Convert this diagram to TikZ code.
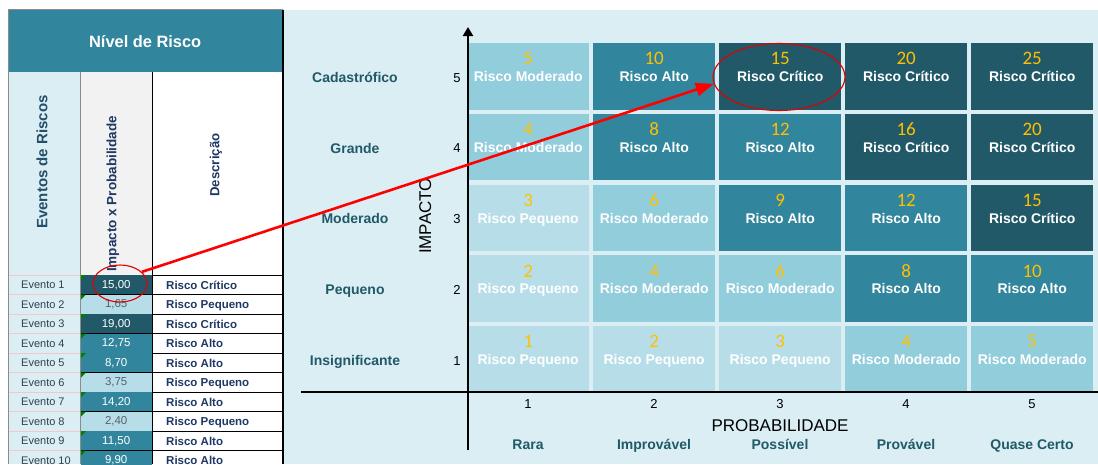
\documentclass[tikz,border=0pt]{standalone}
\usepackage{fontspec}
\setmainfont{Liberation Sans}
\newfontfamily\numfont{Carlito}
\usetikzlibrary{arrows.meta,shapes.geometric}
\definecolor{bgpanel}{HTML}{DAEEF3}
\definecolor{cPeq}{HTML}{B7DEE8}
\definecolor{cMod}{HTML}{92CDDC}
\definecolor{cAlto}{HTML}{31859C}
\definecolor{cCrit}{HTML}{215968}
\definecolor{numyel}{HTML}{FFC000}
\definecolor{lbl}{HTML}{215968}
\definecolor{navy}{HTML}{1F3864}
\definecolor{hdrblue}{HTML}{254E6A}
\definecolor{evtxt}{HTML}{333F50}
\definecolor{vgray}{HTML}{56626B}
\definecolor{pinkline}{HTML}{F2C8C8}
\definecolor{hdrgray}{HTML}{F2F2F2}
\definecolor{xlgreen}{HTML}{008000}
\definecolor{arrred}{HTML}{FF0000}
\definecolor{ellred}{HTML}{E00000}
\definecolor{bordergray}{HTML}{8C8C8C}
\begin{document}
\begin{tikzpicture}[x=1pt,y=-1pt,
  riskcell/.style={rectangle,draw=none,inner sep=0pt,minimum width=122pt,minimum height=66.5pt,anchor=north west},
  cellnum/.style={font=\numfont\fontsize{19}{20}\selectfont,text=numyel,inner sep=0pt,text height=12pt,text depth=0pt},
  celltxt/.style={font=\fontsize{14}{16}\selectfont\bfseries,text=white,inner sep=0pt,text height=10.2pt,text depth=0pt},
  rowlbl/.style={font=\fontsize{14}{16}\selectfont\bfseries,text=lbl,inner sep=0pt,text height=10.2pt,text depth=0pt},
  axisnum/.style={font=\fontsize{13}{15}\selectfont,text=black,inner sep=0pt,text height=9.4pt,text depth=0pt},
  axistitle/.style={font=\fontsize{17}{19}\selectfont,text=black,inner sep=0pt,text height=12.2pt,text depth=0pt},
  axisline/.style={line width=2.8pt,draw=black},
  valcell/.style={rectangle,draw=none,inner sep=0pt,minimum width=71pt,minimum height=19.5pt,anchor=north west,font=\fontsize{11.5}{13}\selectfont},
  evname/.style={font=\fontsize{11}{13}\selectfont,text=evtxt,inner sep=0pt,anchor=west,text height=8pt,text depth=0pt},
  descr/.style={font=\fontsize{11.5}{13}\selectfont\bfseries,text=navy,inner sep=0pt,anchor=west,text height=8.3pt,text depth=0pt},
  colhead/.style={font=\fontsize{13.5}{15}\selectfont\bfseries,text=navy,inner sep=0pt,rotate=90},
  hlellipse/.style={ellipse,draw=ellred,line width=1.1pt,inner sep=0pt},
  redarrow/.style={draw=arrred,line width=2.6pt,-{Triangle[length=18pt,width=13pt]}}
]
\useasboundingbox (0,0) rectangle (1098,464);
\fill[white] (0,0) rectangle (1098,464);
\fill[bgpanel] (284,10) rectangle (1098,464);

% ---------- left table ----------
\node[rectangle,fill=cAlto,minimum width=274pt,minimum height=62pt,anchor=north west,inner sep=0pt,
      font=\fontsize{16.4}{18}\selectfont\bfseries,text=white] (hdr) at (8,10) {Nível de Risco};
\fill[bgpanel] (8,72) rectangle (80,464);
\fill[hdrgray] (80,72) rectangle (152,275);
\fill[white] (152,72) rectangle (282,464);

\node[colhead,font=\fontsize{15}{17}\selectfont\bfseries,text=hdrblue] (hev) at (42,162) {Eventos de Riscos};
\node[colhead,anchor=west] (himp) at (113,272) {Impacto x Probabilidade};
\node[colhead,font=\fontsize{13.2}{15}\selectfont\bfseries] (hdesc) at (216,165) {Descrição};

\draw[pinkline,line width=0.8pt] (8,275) -- (80,275);
\draw[black,line width=0.8pt] (80,275) -- (282,275);

\foreach \i/\val/\k/\vc/\desc in {
  1/{15,00}/Crit/white/Risco Crítico,
  2/{1,65}/Peq/vgray/Risco Pequeno,
  3/{19,00}/Crit/white/Risco Crítico,
  4/{12,75}/Alto/white/Risco Alto,
  5/{8,70}/Alto/white/Risco Alto,
  6/{3,75}/Peq/vgray/Risco Pequeno,
  7/{14,20}/Alto/white/Risco Alto,
  8/{2,40}/Peq/vgray/Risco Pequeno,
  9/{11,50}/Alto/white/Risco Alto,
  10/{9,90}/Alto/white/Risco Alto}{
  \pgfmathsetmacro\yt{275+19.5*(\i-1)}
  \pgfmathsetmacro\yb{275+19.5*\i}
  \pgfmathsetmacro\ym{275+19.5*(\i-1)+9.9}
  \node[valcell,fill=c\k,text=\vc] (v\i) at (80.5,\yt) {\val};
  \fill[xlgreen] (81,\yt) -- ++(5,0) -- ++(-5,5) -- cycle;
  \node[evname] (ev\i) at (21,\ym) {Evento \i};
  \node[descr] (d\i) at (166,\ym) {\desc};
  \draw[pinkline,line width=0.8pt] (8,\yb) -- (80,\yb);
  \draw[black,line width=0.8pt] (80,\yb) -- (282,\yb);
}

\draw[bordergray,line width=0.8pt] (80,72) -- (80,464);
\draw[black,line width=0.9pt] (152,72) -- (152,464);
\draw[bordergray,line width=0.9pt] (8,9.5) -- (283,9.5);
\draw[bordergray,line width=0.9pt] (8,9.5) -- (8,464);
\draw[black,line width=2pt] (283,9.5) -- (283,464);

% ---------- risk matrix ----------
\foreach \r/\c/\v/\k/\t in {
  5/1/5/Mod/Risco Moderado, 5/2/10/Alto/Risco Alto, 5/3/15/Crit/Risco Crítico, 5/4/20/Crit/Risco Crítico, 5/5/25/Crit/Risco Crítico,
  4/1/4/Mod/Risco Moderado, 4/2/8/Alto/Risco Alto, 4/3/12/Alto/Risco Alto, 4/4/16/Crit/Risco Crítico, 4/5/20/Crit/Risco Crítico,
  3/1/3/Peq/Risco Pequeno, 3/2/6/Mod/Risco Moderado, 3/3/9/Alto/Risco Alto, 3/4/12/Alto/Risco Alto, 3/5/15/Crit/Risco Crítico,
  2/1/2/Peq/Risco Pequeno, 2/2/4/Mod/Risco Moderado, 2/3/6/Mod/Risco Moderado, 2/4/8/Alto/Risco Alto, 2/5/10/Alto/Risco Alto,
  1/1/1/Peq/Risco Pequeno, 1/2/2/Peq/Risco Pequeno, 1/3/3/Peq/Risco Pequeno, 1/4/4/Mod/Risco Moderado, 1/5/5/Mod/Risco Moderado}{
  \pgfmathsetmacro\xl{467+126*(\c-1)}
  \pgfmathsetmacro\yt{43+(5-\r)*70.75}
  \node[riskcell,fill=c\k] (cell\r\c) at (\xl,\yt) {};
  \node[cellnum] (n\r\c) at ([yshift=17.5pt]cell\r\c.center) {\v};
  \node[celltxt] (t\r\c) at (cell\r\c.center) {\t};
}

% row labels
\foreach \r/\name in {5/Cadastrófico,4/Grande,3/Moderado,2/Pequeno,1/Insignificante}{
  \pgfmathsetmacro\ym{43+(5-\r)*70.75+34.3}
  \node[rowlbl] (rl\r) at (355,\ym) {\name};
  \node[axisnum] (rn\r) at (457,\ym) {\r};
}
% column labels
\foreach \c/\name in {1/Rara,2/Improvável,3/Possível,4/Provável,5/Quase Certo}{
  \pgfmathsetmacro\xm{528+126*(\c-1)}
  \node[axisnum] (cn\c) at (\xm,404) {\c};
  \node[rowlbl] (cl\c) at (\xm,444) {\name};
}
\node[axistitle] (ptitle) at (780,425) {PROBABILIDADE};
\node[axistitle,rotate=90] (ititle) at (425,216) {IMPACTO};

% axes
\coordinate (ybot) at (468,450);
\coordinate (ytop) at (468,27);
\coordinate (xleft) at (301,392);
\coordinate (xright) at (1098,392);
\draw[axisline] (xleft) -- (xright);
\draw[axisline,-{Triangle[length=9pt,width=10pt]}] (ybot) -- (ytop);

% highlight ellipses and arrow
\node[hlellipse,minimum width=54pt,minimum height=37pt] (e1) at (120,283.5) {};
\node[hlellipse,minimum width=132pt,minimum height=67pt] (e2) at (779,77) {};
\draw[redarrow] (e1.28) -- (e2.186);
\end{tikzpicture}
\end{document}
